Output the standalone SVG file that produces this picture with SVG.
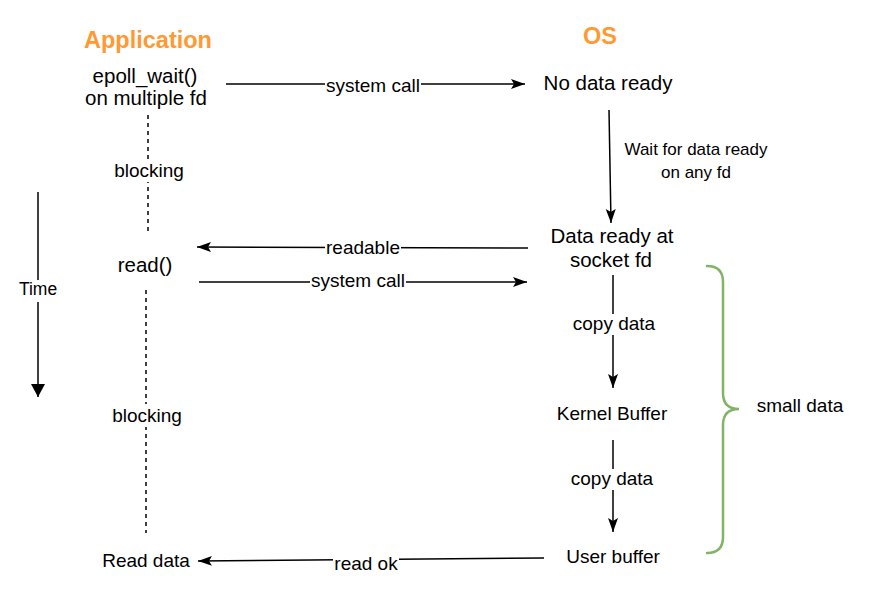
<svg xmlns="http://www.w3.org/2000/svg" width="876" height="612" viewBox="0 0 876 612">
<style>
text{font-family:"Liberation Sans",Arial,Helvetica,sans-serif;fill:#000;text-anchor:middle}
.title{font-weight:bold;font-size:23.5px;fill:#FF9933}
.big{font-size:20.5px}
.mid{font-size:19px}
.sm{font-size:17px}
.ln{stroke:#000;stroke-width:1.5;fill:none}
.dash{stroke:#000;stroke-width:1.5;fill:none;stroke-dasharray:4 4}
.bg{fill:#fff}
.brace{stroke:#82B366;stroke-width:2.5;fill:none;stroke-linecap:round}
</style>
<defs>
<marker id="arr" markerUnits="userSpaceOnUse" markerWidth="15" markerHeight="11" refX="14" refY="5" orient="auto">
<path d="M0,0 L14,5 L0,10 L3,5 z" fill="#000"/>
</marker>
<marker id="blk" markerUnits="userSpaceOnUse" markerWidth="14" markerHeight="15" refX="13" refY="7" orient="auto">
<path d="M0,0 L13,7 L0,14 z" fill="#000"/>
</marker>
</defs>
<rect width="876" height="612" fill="#fff"/>

<g id="connectors">
<line class="ln" x1="226" y1="84" x2="525" y2="84" marker-end="url(#arr)"/>
<rect class="bg" x="325" y="75" width="96" height="20"/>
<text class="mid" x="373" y="92">system call</text>

<line class="ln" x1="609" y1="110" x2="611" y2="223" marker-end="url(#arr)"/>

<line class="ln" x1="528" y1="248" x2="197" y2="247" marker-end="url(#arr)"/>
<rect class="bg" x="325" y="238" width="76" height="20"/>
<text class="mid" x="363" y="254">readable</text>

<line class="ln" x1="199" y1="282" x2="527" y2="282" marker-end="url(#arr)"/>
<rect class="bg" x="310" y="272" width="96" height="20"/>
<text class="mid" x="358" y="287">system call</text>

<line class="ln" x1="613" y1="275" x2="613" y2="388" marker-end="url(#arr)"/>
<rect class="bg" x="571" y="314" width="86" height="21"/>
<text class="mid" x="614" y="330">copy data</text>

<line class="ln" x1="613" y1="440" x2="613" y2="532" marker-end="url(#arr)"/>
<rect class="bg" x="569" y="469" width="86" height="21"/>
<text class="mid" x="612" y="485">copy data</text>

<line class="ln" x1="544" y1="558" x2="198" y2="561" marker-end="url(#arr)"/>
<rect class="bg" x="333" y="554" width="66" height="20"/>
<text class="mid" x="366" y="570">read ok</text>

<line class="ln" x1="38" y1="192" x2="38" y2="397" marker-end="url(#blk)"/>
<rect class="bg" x="17" y="280" width="42" height="22"/>
<text class="sm" x="38" y="295" style="font-size:17.5px">Time</text>

<line class="dash" x1="148" y1="115" x2="148" y2="232"/>
<rect class="bg" x="113" y="160" width="72" height="22"/>
<text class="mid" x="149" y="177">blocking</text>

<line class="dash" x1="146" y1="290" x2="146" y2="533"/>
<rect class="bg" x="111" y="404" width="72" height="23"/>
<text class="mid" x="147" y="422">blocking</text>

<path class="brace" d="M707,266 Q723,266 723,282 L723,393 Q723,409 739,409 Q723,409 723,425 L723,537 Q723,553 707,553"/>
</g>

<g id="title-application"><text class="title" x="148" y="48">Application</text></g>
<g id="title-os"><text class="title" x="600" y="44">OS</text></g>

<g id="node-epoll">
<text class="big" x="145" y="83">epoll_wait()</text>
<text class="big" x="146" y="105">on multiple fd</text>
</g>
<g id="node-nodata"><text class="big" x="608" y="90">No data ready</text></g>
<g id="label-wait">
<text class="sm" x="696" y="155">Wait for data ready</text>
<text class="sm" x="696" y="178">on any fd</text>
</g>
<g id="node-dataready">
<text class="big" x="612" y="243">Data ready at</text>
<text class="big" x="611" y="267">socket fd</text>
</g>
<g id="node-read"><text class="big" x="145" y="272">read()</text></g>
<g id="node-kernel"><text class="mid" x="612" y="420">Kernel Buffer</text></g>
<g id="node-user"><text class="mid" x="613" y="563">User buffer</text></g>
<g id="node-readdata"><text class="mid" x="146" y="567">Read data</text></g>
<g id="label-small"><text class="mid" x="800" y="412">small data</text></g>
</svg>
